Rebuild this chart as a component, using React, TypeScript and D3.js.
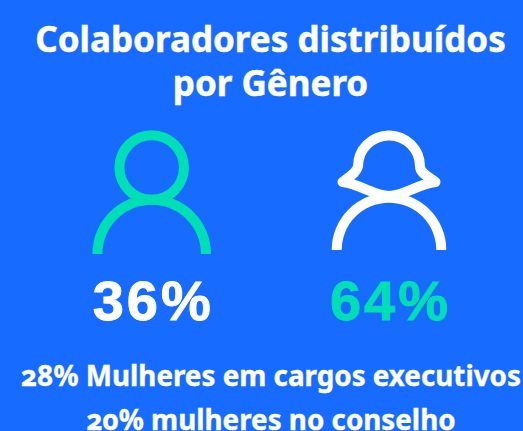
import React from 'react';
import * as d3 from 'd3';

const W = 523;
const H = 431;

const BLUE = '#176cff';
const TEAL = '#00deb6';

const titleLines = ['Colaboradores distribuídos', 'por Gênero'];
const categories = ['Homens', 'Mulheres'];
const shares = [36, 64];
const notes = ['28% Mulheres em cargos executivos', '20% mulheres no conselho'];

const STROKE = 10;
const FONT = '"Noto Sans", sans-serif';

const x = d3.scalePoint<string>().domain(categories).range([151.7, 389]);

const ring = (r: number, start: number, end: number) =>
  d3.arc()({ innerRadius: r - STROKE / 2, outerRadius: r + STROKE / 2, startAngle: start, endAngle: end }) as string;

// cabelo: desenhado a partir do centro do icone
function hairPath() {
  const p = d3.path();
  p.moveTo(-46.5, 15.5);
  p.bezierCurveTo(-40, 10, -33, 7, -31, 0);
  p.arc(0, 0, 31, Math.PI, 0);
  p.bezierCurveTo(31, 7, 40, 10, 46.5, 15.5);
  p.bezierCurveTo(28, 18, 15, 29, 0, 29.5);
  p.bezierCurveTo(-15, 29, -28, 18, -46.5, 15.5);
  p.closePath();
  return p.toString();
}

export default function App() {
  return (
    <svg width={W} height={H} viewBox={`0 0 ${W} ${H}`} style={{ position: 'absolute', left: 0, top: 0, display: 'block' }}>
      <rect width={W} height={H} fill={BLUE} />

      <g fontFamily={FONT} fontWeight={700} fontSize={35} fill="#fff" stroke="#fff" strokeWidth={0.5} textAnchor="middle">
        {titleLines.map((t, i) => (
          <text key={t} x={270.5} y={52 + i * 44}>{t}</text>
        ))}
      </g>

      {/* homem */}
      <g fill={TEAL}>
        <path d={ring(32.3, 0, 2 * Math.PI)} transform={`translate(${x('Homens')},167.5)`} />
        <path d={ring(54.3, -Math.PI / 2, Math.PI / 2)} transform={`translate(${x('Homens')},254)`} />
      </g>

      {/* mulher */}
      <g>
        <path d={ring(52.3, -Math.PI / 2, Math.PI / 2)} fill="#fff" transform={`translate(${x('Mulheres')},250)`} />
        <path d={hairPath()} fill="none" stroke="#fff" strokeWidth={STROKE} strokeLinejoin="round" transform={`translate(${x('Mulheres')},166.5)`} />
      </g>

      <g fontFamily='"Liberation Sans", Arial, sans-serif' fontWeight={700} fontSize={56} letterSpacing={3} strokeWidth={0.9} textAnchor="middle">
        {categories.map((c, i) => (
          <text key={c} x={(x(c) as number) + 1.5} y={320} fill={i === 0 ? '#fff' : TEAL} stroke={i === 0 ? '#fff' : TEAL}>{shares[i]}%</text>
        ))}
      </g>

      <g fontFamily={FONT} fontWeight={700} fontSize={27.8} fill="#fff" stroke="#fff" strokeWidth={0.4} textAnchor="middle" style={{ fontVariantNumeric: 'oldstyle-nums' }}>
        {notes.map((t, i) => (
          <text key={t} x={271} y={385.5 + i * 44}>{t}</text>
        ))}
      </g>
    </svg>
  );
}
